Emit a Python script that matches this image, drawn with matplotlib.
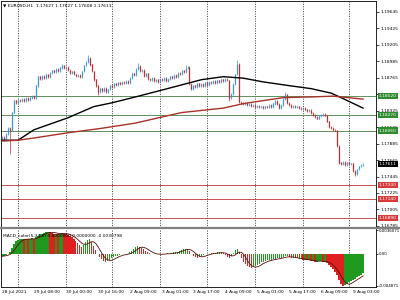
import numpy as np
import pandas as pd
import matplotlib
matplotlib.use('Agg')
import matplotlib.pyplot as plt
from matplotlib import font_manager
from matplotlib.lines import Line2D

# ---- data (EURUSD H1) ----
first_open = 1.1795
closes = [
    1.1797, 1.1793, 1.1801, 1.1809, 1.1806, 1.1830, 1.1846, 1.1843, 1.1847, 1.1845,
    1.1848, 1.1846, 1.1849, 1.1847, 1.1850, 1.1852, 1.1849, 1.1866, 1.1878, 1.1875,
    1.1879, 1.1876, 1.1881, 1.1878, 1.1883, 1.1886, 1.1884, 1.1888, 1.1886, 1.1890,
    1.1893, 1.1889, 1.1891, 1.1887, 1.1883, 1.1885, 1.1881, 1.1879, 1.1880, 1.1877,
    1.1885, 1.1893, 1.1898, 1.1903, 1.1894, 1.1885, 1.1874, 1.1866, 1.1858, 1.1862,
    1.1859, 1.1863, 1.1858, 1.1861, 1.1866, 1.1864, 1.1869, 1.1867, 1.1870, 1.1868,
    1.1871, 1.1869, 1.1872, 1.1870, 1.1876, 1.1882, 1.1880, 1.1888, 1.1892, 1.1885,
    1.1887, 1.1879, 1.1882, 1.1875, 1.1873, 1.1876, 1.1872, 1.1874, 1.1871, 1.1875,
    1.1873, 1.1876, 1.1872, 1.1875, 1.1878, 1.1876, 1.1880, 1.1878, 1.1883, 1.1881,
    1.1886, 1.1884, 1.1889, 1.1891, 1.1868, 1.1862, 1.1866, 1.1864, 1.1869, 1.1866,
    1.1868, 1.1866, 1.1870, 1.1867, 1.1871, 1.1869, 1.1872, 1.1870, 1.1873, 1.1871,
    1.1874, 1.1872, 1.1875, 1.1873, 1.1850, 1.1855, 1.1868, 1.1881, 1.1895, 1.1844,
    1.1843, 1.1841, 1.1843, 1.1840, 1.1841, 1.1839, 1.1840, 1.1838, 1.1839, 1.1837,
    1.1838, 1.1836, 1.1838, 1.1837, 1.1840, 1.1838, 1.1842, 1.1845, 1.1841, 1.1836,
    1.1840, 1.1848, 1.1854, 1.1843, 1.1840, 1.1838, 1.1839, 1.1837, 1.1838, 1.1836,
    1.1835, 1.1836, 1.1834, 1.1832, 1.1833, 1.1829, 1.1827, 1.1824, 1.1822, 1.1825,
    1.1827, 1.1828, 1.1826, 1.1818, 1.1811, 1.1809, 1.1807, 1.1806, 1.1785, 1.1763,
    1.1761, 1.1764, 1.1760, 1.1763, 1.1761, 1.1762, 1.1752, 1.1748, 1.1754, 1.1758,
    1.1760, 1.1761,
]
spike_highs = {30: 1.1895, 43: 1.1907, 68: 1.1896, 92: 1.1893, 118: 1.1900, 142: 1.1857}
spike_lows = {4: 1.1774, 48: 1.1854, 114: 1.1845, 177: 1.1745}

ma_black_idx = [0, 8, 16, 33, 46, 55, 67, 80, 90, 100, 111, 121, 131, 144, 155, 165, 170, 181]
ma_black_val = [1.1793, 1.1793, 1.1807, 1.1823, 1.1838, 1.1843, 1.1851, 1.1860, 1.1867,
                1.1874, 1.1878, 1.1876, 1.1871, 1.1866, 1.1862, 1.1856, 1.1850, 1.1836]
ma_red_idx = [0, 8, 16, 33, 50, 67, 80, 90, 111, 121, 141, 156, 166, 181]
ma_red_val = [1.1792, 1.1793, 1.1796, 1.1803, 1.1809, 1.1816, 1.1824, 1.1830, 1.1836,
              1.1842, 1.1850, 1.1851, 1.1852, 1.1848]

levels_green = [1.18520, 1.18270, 1.18060]
levels_red = [1.17330, 1.17140, 1.16890]
last_price = 1.17611

price_ticks = [1.19645, 1.19425, 1.19205, 1.18985, 1.18765, 1.18545, 1.18325,
               1.18105, 1.17885, 1.17665, 1.17445, 1.17225, 1.17005, 1.16785]

macd = [
    -0.0004, -0.0003, -0.0002, 0.0000, 0.0003, 0.0009, 0.0015, 0.0019, 0.0021, 0.0022,
    0.0023, 0.0022, 0.0023, 0.0022, 0.0023, 0.0024, 0.0022, 0.0025, 0.0028, 0.0030,
    0.0031, 0.0032, 0.0033, 0.0034, 0.0033, 0.0032, 0.0031, 0.0031, 0.0030, 0.0031,
    0.0032, 0.0031, 0.0030, 0.0029, 0.0027, 0.0025, 0.0022, 0.0019, 0.0016, 0.0013,
    0.0011, 0.0014, 0.0018, 0.0021, 0.0022, 0.0018, 0.0012, 0.0006, 0.0000, -0.0005,
    -0.0008, -0.0011, -0.0012, -0.0011, -0.0009, -0.0007, -0.0005, -0.0004, -0.0003, -0.0002,
    -0.0001, 0.0000, -0.0001, 0.0000, 0.0002, 0.0005, 0.0008, 0.0010, 0.0012, 0.0011,
    0.0009, 0.0007, 0.0005, 0.0003, 0.0001, 0.0000, -0.0001, -0.0001, -0.0001, 0.0000,
    -0.0001, 0.0000, 0.0000, 0.0001, 0.0000, 0.0001, 0.0002, 0.0002, 0.0003, 0.0005,
    0.0006, 0.0007, 0.0008, 0.0008, 0.0004, 0.0000, -0.0003, -0.0005, -0.0006, -0.0005,
    -0.0004, -0.0002, -0.0001, 0.0000, 0.0000, 0.0001, 0.0001, 0.0001, 0.0002, 0.0002,
    0.0002, 0.0001, -0.0002, -0.0005, -0.0006, -0.0004, 0.0001, 0.0006, 0.0008, 0.0002,
    -0.0006, -0.0012, -0.0016, -0.0019, -0.0021, -0.0022, -0.0021, -0.0019, -0.0017, -0.0015,
    -0.0013, -0.0012, -0.0011, -0.0010, -0.0009, -0.0009, -0.0008, -0.0008, -0.0007, -0.0006,
    -0.0006, -0.0005, -0.0004, -0.0004, -0.0005, -0.0006, -0.0006, -0.0007, -0.0007, -0.0008,
    -0.0008, -0.0009, -0.0009, -0.0010, -0.0010, -0.0011, -0.0011, -0.0012, -0.0012, -0.0011,
    -0.0011, -0.0012, -0.0012, -0.0014, -0.0017, -0.0020, -0.0024, -0.0028, -0.0033, -0.0040,
    -0.0046, -0.0049, -0.0048, -0.0046, -0.0044, -0.0042, -0.0040, -0.0038, -0.0036, -0.0034,
    -0.0032, -0.0030,
]

day_starts = [8, 32, 55, 79, 103, 127, 151, 174]
time_pos = [0, 16, 32, 48, 64, 80, 96, 112, 128, 144, 160, 176]
time_labels = ['28 Jul 2021', '29 Jul 08:00', '30 Jul 00:00', '30 Jul 16:00',
               '2 Aug 09:00', '3 Aug 01:00', '3 Aug 17:00', '4 Aug 09:00',
               '5 Aug 01:00', '5 Aug 17:00', '6 Aug 09:00', '9 Aug 03:00']

BULL = '#3a9ad9'
BEAR = '#c03030'

# MT4 uses a narrow little font; take a condensed family if there is one
names = {f.name for f in font_manager.fontManager.ttflist}
if 'Liberation Sans Narrow' in names:
    plt.rcParams['font.family'] = ['Liberation Sans Narrow', 'DejaVu Sans']
    FS = 4.2
else:
    plt.rcParams['font.family'] = ['DejaVu Sans']
    FS = 3.2

fig = plt.figure(figsize=(4, 3), dpi=100)
fig.patch.set_facecolor('white')
ax = fig.add_axes([0.0025, 0.24, 0.9375, 0.7567])
ax2 = fig.add_axes([0.0025, 0.0433, 0.9375, 0.1934])

# ---- price panel ----
opens = [first_open] + closes[:-1]
for i, (o, c) in enumerate(zip(opens, closes)):
    col = BULL if c >= o else BEAR
    hi = spike_highs.get(i, max(o, c) + 0.00012)
    lo = spike_lows.get(i, min(o, c) - 0.00012)
    ax.vlines(i, lo, hi, color=col, lw=0.5, zorder=3)
    ax.vlines(i, min(o, c), max(o, c) + 0.00003, color=col, lw=0.9, zorder=3)

ax.plot(ma_black_idx, ma_black_val, color='black', lw=1.0, zorder=4)
ax.plot(ma_red_idx, ma_red_val, color='#a8322a', lw=1.0, zorder=4)

for lv in levels_green:
    ax.axhline(lv, color='#5f8f5f', lw=0.7, zorder=2)
for lv in levels_red:
    ax.axhline(lv, color='#c65050', lw=0.7, zorder=2)

for ab in (ax, ax2):
    for d in day_starts:
        ab.axvline(d, color='black', lw=0.5, ls=(0, (1.5, 2)), zorder=1)
    ab.set_xlim(-0.5, 187.5)
    ab.set_xticks([])
    for s in ab.spines.values():
        s.set_linewidth(0.6)
        s.set_color('black')

ax.set_ylim(1.16757, 1.19792)
ax.yaxis.tick_right()
ax.set_yticks(price_ticks)
ax.set_yticklabels([f'{t:.5f}' for t in price_ticks])
ax.tick_params(axis='y', labelsize=FS, length=2, width=0.5, pad=1.2)
ax.spines['bottom'].set_visible(False)

ytr = ax.get_yaxis_transform()
box_specs = [(lv, '#2e8b2e') for lv in levels_green] + \
            [(lv, '#d83a3a') for lv in levels_red] + [(last_price, 'black')]
for lv, fc in box_specs:
    ax.text(1.008, lv, f'{lv:.5f}', transform=ytr, fontsize=FS, color='white',
            va='center', ha='left', zorder=6,
            bbox=dict(boxstyle='square,pad=0.25', fc=fc, ec='none'))

ax.text(0.006, 0.99, '\u25bc EURUSD,H1  1.17627 1.17627 1.17608 1.17611',
        transform=ax.transAxes, fontsize=FS, va='top', ha='left')

# thick grey separator between the two windows, across the full width
fig.add_artist(Line2D([0.0, 1.0], [0.2385, 0.2385], color='#808080', lw=1.6,
                      transform=fig.transFigure))

# ---- MACD panel ----
m = np.array(macd)
rising = np.r_[True, np.diff(m) >= 0]
bar_cols = np.where(rising, '#1f9a1f', '#e02020')
ax2.bar(np.arange(len(m)), m, width=0.7, color=bar_cols, zorder=2)
signal = pd.Series(macd).rolling(5, min_periods=1).mean()
ax2.plot(np.arange(len(m)), signal, color='#5a0a0a', lw=0.6, zorder=3)

ax2.set_ylim(-0.0051, 0.0038)
ax2.yaxis.tick_right()
ax2.set_yticks([0.0036071, 0.0, -0.004871])
ax2.set_yticklabels(['0.0036071', '0.00', '-0.004871'])
ax2.tick_params(axis='y', labelsize=FS - 0.3, length=1.5, width=0.5, pad=0.6)
ax2.spines['top'].set_visible(False)
ax2.text(0.006, 0.93, 'MACD_color(5,34,5) 0.0000000 0.0000000 -0.0030798',
         transform=ax2.transAxes, fontsize=FS, va='top', ha='left', zorder=5)

xtr = ax2.get_xaxis_transform()
for p, lab in zip(time_pos, time_labels):
    ax2.text(p, -0.05, lab, transform=xtr, fontsize=FS, va='top', ha='left')

fig.savefig('out.png', dpi=100, facecolor='white')
